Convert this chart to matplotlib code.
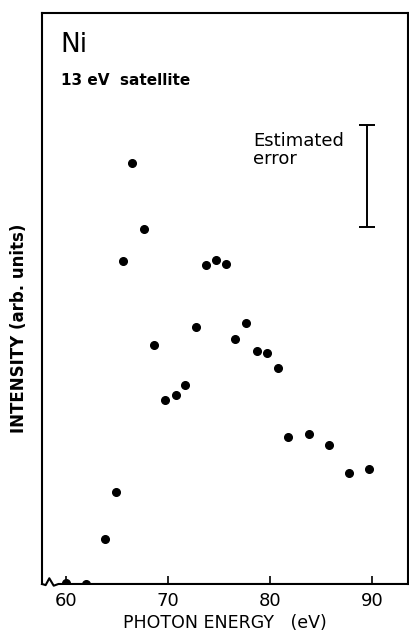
import matplotlib
matplotlib.use("Agg")
import matplotlib.pyplot as plt

# Data (intensity in arbitrary units)
photon_energy = [60.0, 62.0, 63.85, 64.9, 65.56, 66.44, 67.65, 68.66, 69.68, 70.78,
                 71.67, 72.72, 73.70, 74.71, 75.66, 76.54, 77.65, 78.70, 79.68, 80.75,
                 81.79, 83.82, 85.78, 87.77, 89.71]
intensity = [1, 0, 45, 92, 323, 421, 355, 239, 184, 189,
             199, 257, 319, 324, 320, 245, 261, 233, 231, 216,
             147, 150, 139, 111, 115]

err_x = 89.48
err_center = 408.0
err_half = 51.3

xticks = [60, 70, 80, 90]
xtick_labels = ["60", "70", "80", "90"]

plt.rcParams['font.family'] = ['DejaVu Sans']

fig = plt.figure(figsize=(4.1, 6.34), dpi=100)
ax = fig.add_axes([0.1024, 0.0789, 0.8927, 0.9006])

ax.plot(photon_energy, intensity, linestyle='none', marker='o', markersize=5.5,
        color='black', clip_on=True, zorder=3)

ax.errorbar([err_x], [err_center], yerr=[err_half], fmt='none', ecolor='black',
            elinewidth=1.4, capsize=6, capthick=1.4)

ax.set_xlim(57.65, 93.53)
ax.set_ylim(0, 571)
ax.set_xticks(xticks)
ax.set_xticklabels(xtick_labels, fontsize=13)
ax.set_yticks([])
ax.tick_params(axis='x', direction='in', length=6, width=1.2, pad=6)

for s in ['left', 'top', 'right']:
    ax.spines[s].set_linewidth(1.5)
ax.spines['bottom'].set_visible(False)

# bottom axis line with break mark
bx = [0.0, 0.01, 0.02, 0.032, 0.045, 1.0]
by = [0.0, -0.002, 0.010, -0.003, 0.0, 0.0]
ax.plot(bx, by, color='black', linewidth=1.5, transform=ax.transAxes,
        clip_on=False, zorder=4)

ax.set_xlabel("PHOTON ENERGY   (eV)", fontsize=12.5, labelpad=3)
ax.text(-0.064, 0.448, "INTENSITY (arb. units)", transform=ax.transAxes,
        rotation=90, fontsize=12, fontweight='bold', ha='center', va='center')

ax.text(0.049, 0.932, "Ni", transform=ax.transAxes, fontsize=19,
        ha='left', va='baseline')
ax.text(0.052, 0.874, "13 eV  satellite", transform=ax.transAxes, fontsize=11,
        fontweight='bold', ha='left', va='baseline')
ax.text(0.577, 0.735, "Estimated\nerror", transform=ax.transAxes, fontsize=13,
        ha='left', va='baseline', linespacing=1.0)

fig.savefig("out.png", dpi=100)
